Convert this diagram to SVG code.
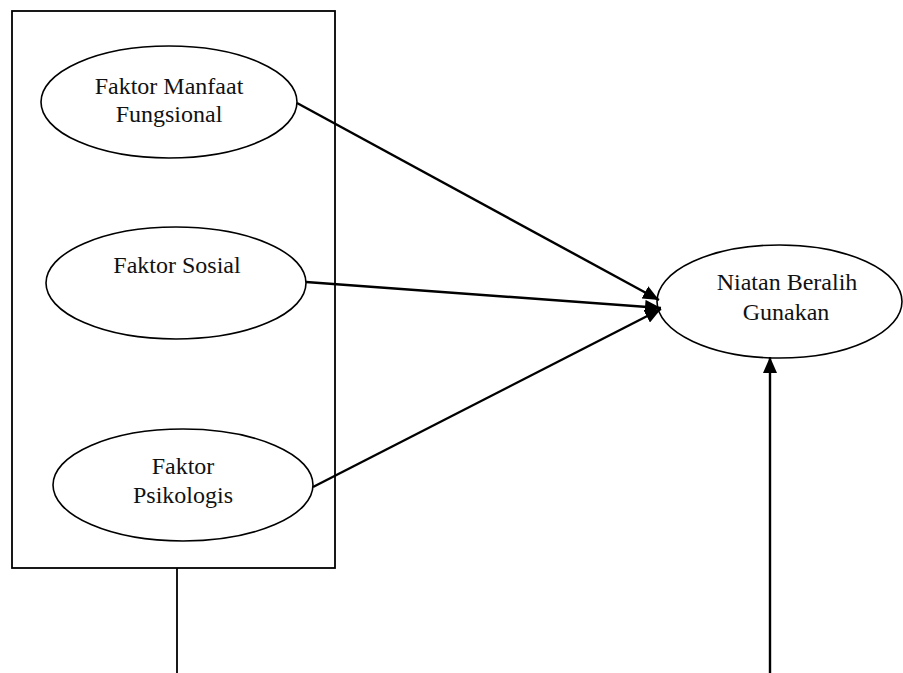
<svg xmlns="http://www.w3.org/2000/svg" width="903" height="673" viewBox="0 0 903 673">
<style>
.n{fill:#fff;stroke:#000;stroke-width:1.6}
.t{font-family:"Liberation Serif","Times New Roman",serif;font-size:24px;fill:#111;text-anchor:middle}
.c{stroke:#000;stroke-width:2.4;fill:none}
</style>
<defs>
<marker id="ah" markerUnits="userSpaceOnUse" markerWidth="18" markerHeight="14" refX="16" refY="7" orient="auto">
<path d="M0,0 L16,7 L0,14 z" fill="#000"/>
</marker>
</defs>
<rect width="903" height="673" fill="#fff"/>
<g id="box">
<rect x="12" y="11" width="323" height="557" fill="none" stroke="#000" stroke-width="1.8"/>
</g>
<g id="n1">
<ellipse class="n" cx="169" cy="102" rx="128" ry="56"/>
<text class="t" x="169" y="94">Faktor Manfaat</text>
<text class="t" x="169" y="122">Fungsional</text>
</g>
<g id="n2">
<ellipse class="n" cx="176" cy="283" rx="130" ry="56"/>
<text class="t" x="177" y="273">Faktor Sosial</text>
</g>
<g id="n3">
<ellipse class="n" cx="183" cy="485" rx="130" ry="56"/>
<text class="t" x="183" y="474">Faktor</text>
<text class="t" x="183" y="503">Psikologis</text>
</g>
<g id="n4">
<ellipse class="n" cx="779.5" cy="301.5" rx="122.5" ry="56.5"/>
<text class="t" x="787" y="290">Niatan Beralih</text>
<text class="t" x="786" y="320">Gunakan</text>
</g>
<g id="connectors">
<line class="c" x1="297" y1="103" x2="659" y2="300" marker-end="url(#ah)"/>
<line class="c" x1="306" y1="282" x2="661" y2="308" marker-end="url(#ah)"/>
<line class="c" x1="313" y1="487" x2="661" y2="309" marker-end="url(#ah)"/>
<line class="c" x1="770" y1="673" x2="770" y2="357" marker-end="url(#ah)"/>
<line x1="177" y1="568" x2="177" y2="673" stroke="#000" stroke-width="1.8"/>
</g>
</svg>
